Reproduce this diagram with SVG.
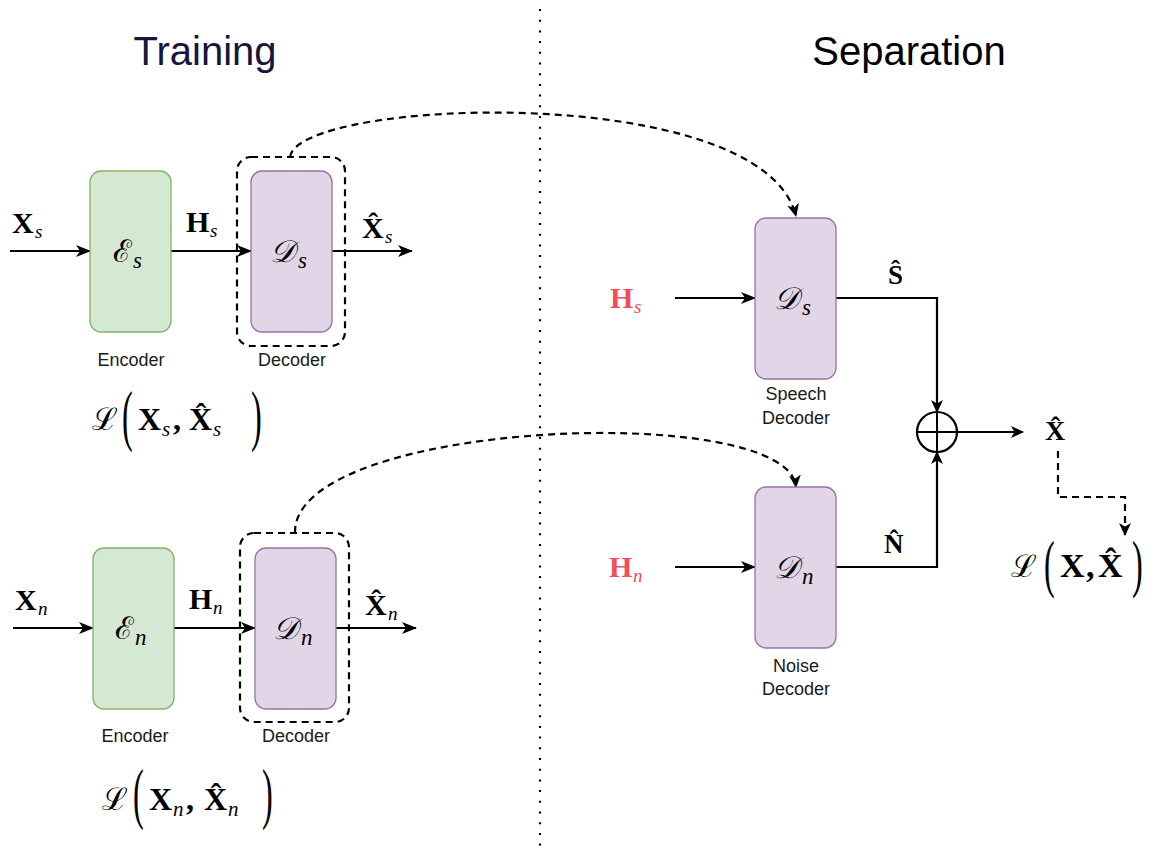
<svg xmlns="http://www.w3.org/2000/svg" width="1154" height="850" viewBox="0 0 1154 850">
<defs>
<marker id="arr" markerUnits="userSpaceOnUse" markerWidth="16" markerHeight="12" refX="14" refY="6" orient="auto">
<path d="M0,0 L15,6 L0,12 L4,6 z" fill="#000"/>
</marker>
<marker id="arrs" markerUnits="userSpaceOnUse" markerWidth="14" markerHeight="12" refX="12" refY="6" orient="auto">
<path d="M0,0 L13,6 L0,12 L3.5,6 z" fill="#000"/>
</marker>
<style>
.enc{fill:#d5e8d4;stroke:#82b366;stroke-width:1.3}
.dec{fill:#e1d5e7;stroke:#9673a6;stroke-width:1.3}
.dbox{fill:none;stroke:#000;stroke-width:2.2;stroke-dasharray:7 5}
.ln{fill:none;stroke:#000;stroke-width:2.2}
.dl{fill:none;stroke:#000;stroke-width:2.2;stroke-dasharray:7 5}
.cap{font-family:"Liberation Sans",Arial,sans-serif;font-size:18px;fill:#1a1a1a;text-anchor:middle}
.title{font-family:"Liberation Sans",Arial,sans-serif;font-size:40px;text-anchor:middle}
.mb{font-family:"Liberation Serif","DejaVu Serif",serif;font-weight:bold;font-size:30px;fill:#000}
.ml{font-family:"Liberation Serif","DejaVu Serif",serif;font-weight:bold;font-size:32px;fill:#000}
.mi{font-family:"Liberation Serif","DejaVu Serif",serif;font-style:italic;font-size:19px;fill:#000}
.sc{font-family:"DejaVu Serif","Noto Sans",serif;font-style:italic;font-size:31px;fill:#000}
.scs{font-family:"Liberation Serif","DejaVu Serif",serif;font-style:italic;font-size:23px;fill:#000}
.par{font-family:"Liberation Serif",serif;font-size:46px;fill:#000}
.red{fill:#f24d5a}
</style>
</defs>
<rect width="1154" height="850" fill="#fff"/>

<g id="titles">
<text class="title" x="205" y="65" fill="#16163c">Training</text>
<text class="title" x="909" y="65" fill="#000">Separation</text>
</g>

<g id="divider">
<line x1="540" y1="9" x2="540" y2="850" stroke="#000" stroke-width="2.2" stroke-dasharray="2 8.7"/>
</g>

<g id="connectors">
<line class="ln" x1="10" y1="251" x2="90" y2="251" marker-end="url(#arr)"/>
<line class="ln" x1="171" y1="251" x2="251" y2="251" marker-end="url(#arr)"/>
<line class="ln" x1="332" y1="251" x2="412" y2="251" marker-end="url(#arr)"/>
<line class="ln" x1="13" y1="628" x2="93" y2="628" marker-end="url(#arr)"/>
<line class="ln" x1="174" y1="628" x2="255" y2="628" marker-end="url(#arr)"/>
<line class="ln" x1="336" y1="628" x2="416" y2="628" marker-end="url(#arr)"/>
<line class="ln" x1="675" y1="298" x2="755" y2="298" marker-end="url(#arr)"/>
<line class="ln" x1="675" y1="567" x2="755" y2="567" marker-end="url(#arr)"/>
<polyline class="ln" points="836,298 937,298 937,412" marker-end="url(#arrs)"/>
<polyline class="ln" points="836,567 937,567 937,452" marker-end="url(#arrs)"/>
<line class="ln" x1="957" y1="432" x2="1023" y2="432" marker-end="url(#arrs)"/>
<polyline class="dl" points="1058,451 1058,497 1125,497 1125,535" marker-end="url(#arrs)"/>
<path class="dl" d="M290,157 C298,98 762,80 796,216" marker-end="url(#arrs)"/>
<path class="dl" d="M295,533 C292,420 788,400 796,487" marker-end="url(#arrs)"/>
</g>

<g id="enc-s">
<rect class="enc" x="90" y="171" width="81" height="161" rx="11"/>
<text class="sc" x="113" y="262">ℰ</text><text class="scs" x="133" y="268">s</text>
<text class="cap" x="131" y="366">Encoder</text>
</g>
<g id="dec-s">
<rect class="dbox" x="237" y="157" width="108" height="189" rx="14"/>
<rect class="dec" x="251" y="171" width="81" height="161" rx="11"/>
<text class="sc" x="270" y="262">𝒟</text><text class="scs" x="298" y="268">s</text>
<text class="cap" x="292" y="366">Decoder</text>
</g>
<g id="lbl-top">
<text class="mb" x="12" y="233">X</text><text class="mi" x="35" y="238">s</text>
<text class="mb" x="186" y="232">H</text><text class="mi" x="210" y="237">s</text>
<text class="mb" x="362" y="238">X̂</text><text class="mi" x="385" y="243">s</text>
</g>
<g id="loss-s">
<text class="sc" x="92" y="430">ℒ</text>
<text class="par" transform="translate(122,438) scale(0.7,1.45)">(</text>
<text class="ml" x="138" y="430">X</text><text class="mi" x="162" y="436" style="font-size:21px">s</text>
<text class="ml" x="173" y="430">,</text>
<text class="ml" x="189" y="430">X̂</text><text class="mi" x="213" y="436" style="font-size:21px">s</text>
<text class="par" transform="translate(251,438) scale(0.7,1.45)">)</text>
</g>

<g id="enc-n">
<rect class="enc" x="93" y="548" width="81" height="161" rx="11"/>
<text class="sc" x="115" y="639">ℰ</text><text class="scs" x="135" y="645">n</text>
<text class="cap" x="135" y="742">Encoder</text>
</g>
<g id="dec-n">
<rect class="dbox" x="240" y="533" width="109" height="189" rx="14"/>
<rect class="dec" x="255" y="548" width="81" height="161" rx="11"/>
<text class="sc" x="273" y="639">𝒟</text><text class="scs" x="301" y="645">n</text>
<text class="cap" x="296" y="742">Decoder</text>
</g>
<g id="lbl-bot">
<text class="mb" x="15" y="610">X</text><text class="mi" x="38" y="615">n</text>
<text class="mb" x="189" y="609">H</text><text class="mi" x="213" y="614">n</text>
<text class="mb" x="365" y="615">X̂</text><text class="mi" x="388" y="620">n</text>
</g>
<g id="loss-n">
<text class="sc" x="102" y="810">ℒ</text>
<text class="par" transform="translate(133,816) scale(0.7,1.45)">(</text>
<text class="ml" x="149" y="810">X</text><text class="mi" x="173" y="816" style="font-size:21px">n</text>
<text class="ml" x="186" y="810">,</text>
<text class="ml" x="204" y="810">X̂</text><text class="mi" x="228" y="816" style="font-size:21px">n</text>
<text class="par" transform="translate(262,816) scale(0.7,1.45)">)</text>
</g>

<g id="speech-dec">
<rect class="dec" x="755" y="218" width="81" height="161" rx="11"/>
<text class="sc" x="774" y="309">𝒟</text><text class="scs" x="802" y="315">s</text>
<text class="cap" x="796" y="400">Speech</text>
<text class="cap" x="796" y="424">Decoder</text>
</g>
<g id="noise-dec">
<rect class="dec" x="755" y="487" width="81" height="161" rx="11"/>
<text class="sc" x="774" y="578">𝒟</text><text class="scs" x="802" y="584">n</text>
<text class="cap" x="796" y="672">Noise</text>
<text class="cap" x="796" y="695">Decoder</text>
</g>
<g id="sep-labels">
<text class="mb red" x="610" y="308">H</text><text class="mi red" x="634" y="313">s</text>
<text class="mb red" x="609" y="577">H</text><text class="mi red" x="633" y="582">n</text>
<text class="mb" x="888" y="284" style="font-size:27px">Ŝ</text>
<text class="mb" x="884" y="553" style="font-size:27px">N̂</text>
<text class="mb" x="1045" y="440" style="font-size:28px">X̂</text>
</g>
<g id="sum">
<circle cx="937" cy="432" r="20" fill="#fff" stroke="#000" stroke-width="2.2"/>
<line x1="917" y1="432" x2="957" y2="432" stroke="#000" stroke-width="2"/>
<line x1="937" y1="412" x2="937" y2="452" stroke="#000" stroke-width="2"/>
</g>
<g id="loss-x">
<text class="sc" x="1011" y="577">ℒ</text>
<text class="par" transform="translate(1044,585) scale(0.7,1.4)">(</text>
<text class="ml" x="1060" y="577" style="font-size:34px">X</text>
<text class="ml" x="1086" y="577" style="font-size:34px">,</text>
<text class="ml" x="1098" y="577" style="font-size:34px">X̂</text>
<text class="par" transform="translate(1132,585) scale(0.7,1.4)">)</text>
</g>
</svg>
